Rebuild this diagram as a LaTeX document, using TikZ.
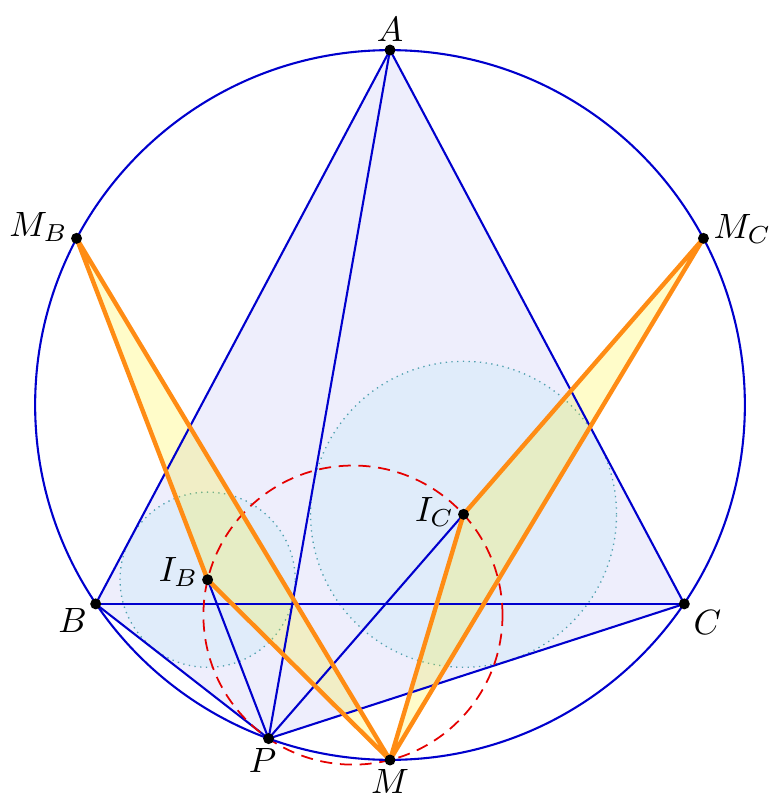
\documentclass[tikz,border=0pt]{standalone}
\usetikzlibrary{calc}
\definecolor{bluel}{RGB}{0,0,205}
\definecolor{lav}{RGB}{238,238,252}
\definecolor{incfill}{RGB}{224,236,250}
\definecolor{incdraw}{RGB}{80,160,175}
\definecolor{orng}{RGB}{255,140,20}
\begin{document}
\begin{tikzpicture}[x=0.016cm,y=-0.016cm,
  bl/.style={draw=bluel,line width=0.95pt},
  orl/.style={draw=orng,line width=2pt,line join=round},
  yel/.style={fill=yellow,fill opacity=0.21},
  inc/.style={fill=incfill,draw=incdraw,line width=0.6pt,dotted},
  reddash/.style={draw=red!90!black,line width=0.8pt,dash pattern=on 5.5pt off 3.5pt},
  dot/.style={fill=black},
  lbl/.style={inner sep=0pt,scale=1.6}
]
\useasboundingbox (0,0) rectangle (770,800);
\coordinate (O) at (390,405);
\coordinate (A) at (390,50);
\coordinate (B) at (95.69,603.9);
\coordinate (C) at (684.31,603.9);
\coordinate (P) at (268.58,738.59);
\coordinate (M) at (390,760);
\coordinate (MB) at (76.55,238.34);
\coordinate (MC) at (703.45,238.34);
\coordinate (IB) at (207.60,579.73);
\coordinate (IC) at (463.54,514.32);
\coordinate (Q) at (352.96,615.07);
% fills
\fill[lav] (A) -- (B) -- (P) -- (C) -- cycle;
\path[inc] (IB) circle (1.4022cm);
\path[inc] (IC) circle (2.4488cm);
\path[yel] (MB) -- (IB) -- (M) -- cycle;
\path[yel] (MC) -- (IC) -- (M) -- cycle;
% blue lines
\draw[bl] (A) -- (B);
\draw[bl] (A) -- (C);
\draw[bl] (B) -- (C);
\draw[bl] (A) -- (P);
\draw[bl] (B) -- (P);
\draw[bl] (C) -- (P);
\draw[bl] (IB) -- (P);
\draw[bl] (IC) -- (P);
% red dashed circle
\draw[reddash] (Q) circle (2.3936cm);
% orange triangles
\draw[orl] (MB) -- (IB) -- (M) -- cycle;
\draw[orl] (MC) -- (IC) -- (M) -- cycle;
% circumcircle
\draw[bl] (O) circle (5.68cm);
% dots
\foreach \p in {A,B,C,P,M,MB,MC,IB,IC} \fill[dot] (\p) circle (2.5pt);
% labels
\node[lbl] (lA) at ($(A)+(0,-21)$) {$A$};
\node[lbl] (lMB) at ($(MB)+(-38,-11)$) {$M_B$};
\node[lbl] (lMC) at ($(MC)+(39,-9)$) {$M_C$};
\node[lbl] (lB) at ($(B)+(-23,17)$) {$B$};
\node[lbl] (lC) at ($(C)+(23,19)$) {$C$};
\node[lbl] (lP) at ($(P)+(-6,22)$) {$P$};
\node[lbl] (lM) at ($(M)+(0,21)$) {$M$};
\node[lbl] (lIB) at ($(IB)+(-29,-8)$) {$I_B$};
\node[lbl] (lIC) at ($(IC)+(-29,-2)$) {$I_C$};
\end{tikzpicture}
\end{document}
